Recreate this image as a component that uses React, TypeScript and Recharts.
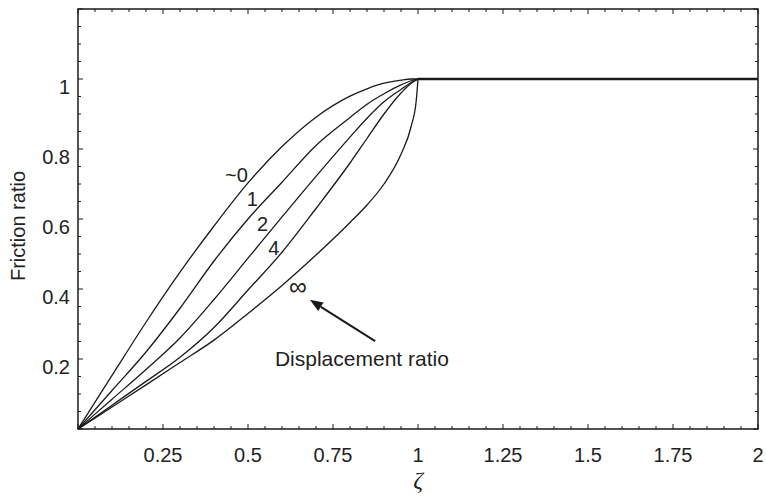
import {
  LineChart,
  Line,
  XAxis,
  YAxis,
  ReferenceArea,
  ReferenceDot,
  ReferenceLine,
} from 'recharts';

// zeta sample points shared by the five transition curves
const zeta = [0, 0.1, 0.2, 0.3, 0.4, 0.5, 0.6, 0.7, 0.8, 0.85, 0.9, 0.95, 0.98, 0.995, 1];

// friction ratio for each displacement ratio
const ratio0 = [0, 0.153, 0.305, 0.448, 0.58, 0.703, 0.807, 0.891, 0.951, 0.972, 0.988, 0.997, 1, 1, 1];
const ratio1 = [0, 0.11, 0.22, 0.345, 0.48, 0.6, 0.705, 0.81, 0.89, 0.928, 0.958, 0.983, 0.995, 0.999, 1];
const ratio2 = [0, 0.085, 0.17, 0.26, 0.37, 0.488, 0.606, 0.722, 0.834, 0.888, 0.935, 0.97, 0.99, 0.997, 1];
const ratio4 = [0, 0.068, 0.136, 0.205, 0.29, 0.397, 0.505, 0.63, 0.76, 0.83, 0.9, 0.96, 0.988, 0.997, 1];
const ratioInf = [0, 0.063, 0.126, 0.19, 0.254, 0.33, 0.41, 0.497, 0.59, 0.64, 0.7, 0.785, 0.865, 0.94, 1];

// full sliding beyond zeta = 1
const slipZeta = [1, 2];
const slipRatio = [1, 1];

const curveLabels = ['~0', '1', '2', '4', '\u221E'];
const labelSizes = [20, 20, 20, 20, 25];
const labelZeta = [0.466, 0.513, 0.543, 0.576, 0.647];
const labelRatio = [0.706, 0.637, 0.566, 0.497, 0.383];

const xTickLabels = [0.25, 0.5, 0.75, 1, 1.25, 1.5, 1.75, 2];
const yTickLabels = [0.2, 0.4, 0.6, 0.8, 1];

const xTicks = Array.from({ length: 41 }, (_, i) => +(i * 0.05).toFixed(2));
const yTicks = Array.from({ length: 25 }, (_, i) => +(i * 0.05).toFixed(2));

const W = 766;
const H = 499;
const MARGIN = { top: 9, right: 8, bottom: 0, left: 0 };
const Y_AXIS_W = 78;
const X_AXIS_H = 70;
const PLOT_W = W - MARGIN.left - MARGIN.right - Y_AXIS_W;
const PLOT_H = H - MARGIN.top - MARGIN.bottom - X_AXIS_H;

const INK = '#1a1a1a';
const FONT = '"Liberation Sans", Arial, Helvetica, sans-serif';

const toPoints = (xs: number[], ys: number[]) => xs.map((z, i) => ({ z, f: ys[i] }));

const curves = [ratio0, ratio1, ratio2, ratio4, ratioInf].map((r) => toPoints(zeta, r));

const near = (v: number, step: number) => Math.abs(v / step - Math.round(v / step)) < 1e-6;

function XTick(props: any) {
  const { x, y, payload } = props;
  const v = payload.value;
  const major = near(v, 0.25);
  const len = major ? 5 : 3;
  const showLabel = xTickLabels.some((t) => Math.abs(t - v) < 1e-6);
  return (
    <g>
      <line x1={x} y1={y} x2={x} y2={y - len} stroke={INK} strokeWidth={1} />
      <line x1={x} y1={y - PLOT_H} x2={x} y2={y - PLOT_H + len} stroke={INK} strokeWidth={1} />
      {showLabel && (
        <text x={x} y={y + 33} textAnchor="middle" fontSize={20} fill="#222" fontFamily={FONT}>
          {String(v)}
        </text>
      )}
    </g>
  );
}

function YTick(props: any) {
  const { x, y, payload } = props;
  const v = payload.value;
  const major = near(v, 0.2);
  const len = major ? 5 : 3;
  const showLabel = yTickLabels.some((t) => Math.abs(t - v) < 1e-6);
  return (
    <g>
      <line x1={x} y1={y} x2={x + len} y2={y} stroke={INK} strokeWidth={1} />
      <line x1={x + PLOT_W} y1={y} x2={x + PLOT_W - len} y2={y} stroke={INK} strokeWidth={1} />
      {showLabel && (
        <text x={x - 8} y={y + 15} textAnchor="end" fontSize={20} fill="#222" fontFamily={FONT}>
          {String(v)}
        </text>
      )}
    </g>
  );
}

function Arrow(props: any) {
  const { x1, y1, x2, y2 } = props;
  const ang = Math.atan2(y2 - y1, x2 - x1);
  const head = 13;
  const half = 5;
  const bx = x2 - head * Math.cos(ang);
  const by = y2 - head * Math.sin(ang);
  const px = -Math.sin(ang) * half;
  const py = Math.cos(ang) * half;
  return (
    <g>
      <line x1={x1} y1={y1} x2={bx} y2={by} stroke={INK} strokeWidth={2} />
      <polygon points={`${x2},${y2} ${bx + px},${by + py} ${bx - px},${by - py}`} fill={INK} />
    </g>
  );
}

const textShape = (label: string, size = 20) => (p: any) => (
  <text x={p.cx} y={p.cy} textAnchor="middle" fontSize={size} fill="#222" fontFamily={FONT}>
    {label}
  </text>
);

export default function App() {
  return (
    <div style={{ position: 'absolute', left: 0, top: 0, background: '#fff' }}>
      <LineChart width={W} height={H} margin={MARGIN}>
        <XAxis
          dataKey="z"
          type="number"
          domain={[0, 2]}
          ticks={xTicks}
          interval={0}
          height={X_AXIS_H}
          tickSize={0}
          tickMargin={0}
          tickLine={false}
          axisLine={false}
          tick={<XTick />}
          allowDataOverflow
        />
        <YAxis
          type="number"
          domain={[0, 1.2]}
          ticks={yTicks}
          interval={0}
          width={Y_AXIS_W}
          tickSize={0}
          tickMargin={0}
          tickLine={false}
          axisLine={false}
          tick={<YTick />}
          allowDataOverflow
        />
        <ReferenceArea
          x1={0}
          x2={2}
          y1={0}
          y2={1.2}
          fill="none"
          stroke={INK}
          strokeWidth={1.5}
          ifOverflow="visible"
        />
        {curves.map((pts, i) => (
          <Line
            key={i}
            data={pts}
            dataKey="f"
            type="monotone"
            stroke={INK}
            strokeWidth={1.3}
            dot={false}
            activeDot={false}
            isAnimationActive={false}
          />
        ))}
        <Line
          data={toPoints(slipZeta, slipRatio)}
          dataKey="f"
          type="linear"
          stroke={INK}
          strokeWidth={2.6}
          dot={false}
          activeDot={false}
          isAnimationActive={false}
        />
        {curveLabels.map((lab, i) => (
          <ReferenceDot
            key={lab}
            x={labelZeta[i]}
            y={labelRatio[i]}
            r={0}
            ifOverflow="visible"
            shape={textShape(lab, labelSizes[i])}
          />
        ))}
        <ReferenceLine
          segment={[
            { x: 0.874, y: 0.251 },
            { x: 0.682, y: 0.369 },
          ]}
          ifOverflow="visible"
          shape={<Arrow />}
        />
        <ReferenceDot
          x={0.835}
          y={0.18}
          r={0}
          ifOverflow="visible"
          shape={textShape('Displacement ratio', 21)}
        />
      </LineChart>
      <svg
        width={W}
        height={H}
        style={{ position: 'absolute', left: 0, top: 0, pointerEvents: 'none' }}
      >
        <text
          x={25}
          y={226}
          transform="rotate(-90 25 226)"
          textAnchor="middle"
          fontSize={20}
          fill="#222"
          fontFamily={FONT}
        >
          Friction ratio
        </text>
        <text
          x={418}
          y={488}
          textAnchor="middle"
          fontSize={24}
          fontStyle="italic"
          fill="#222"
          fontFamily='"Liberation Serif", "DejaVu Serif", serif'
        >
          ζ
        </text>
      </svg>
    </div>
  );
}
